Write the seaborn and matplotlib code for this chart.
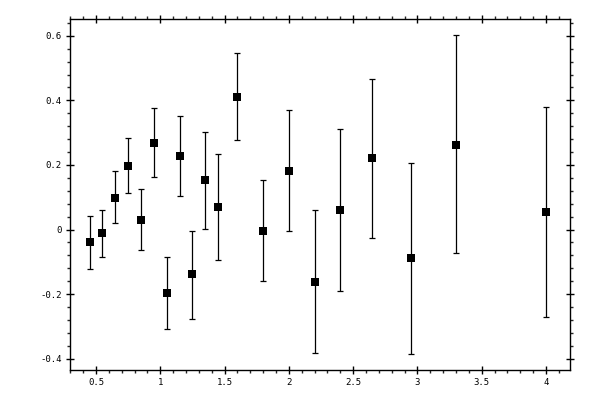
import matplotlib
matplotlib.use("Agg")
import matplotlib.pyplot as plt
import numpy as np
import pandas as pd
import seaborn as sns
from matplotlib.ticker import MultipleLocator, FixedFormatter, FixedLocator

# values
x_vals = [0.45, 0.55, 0.65, 0.75, 0.85, 0.95, 1.05, 1.15, 1.25, 1.35, 1.45,
          1.6, 1.8, 2.0, 2.2, 2.4, 2.65, 2.95, 3.3, 4.0]
y_vals = [-0.040, -0.012, 0.098, 0.198, 0.031, 0.269, -0.198, 0.228, -0.139, 0.152, 0.071,
          0.409, -0.003, 0.180, -0.161, 0.059, 0.220, -0.087, 0.263, 0.053]
y_top = [0.043, 0.059, 0.180, 0.282, 0.127, 0.375, -0.085, 0.353, -0.003, 0.302, 0.235,
         0.546, 0.152, 0.369, 0.059, 0.310, 0.467, 0.207, 0.601, 0.378]
y_bot = [-0.121, -0.084, 0.019, 0.112, -0.062, 0.164, -0.309, 0.104, -0.276, 0.003, -0.093,
         0.276, -0.158, -0.006, -0.381, -0.191, -0.025, -0.384, -0.074, -0.272]

x_ticks = [0.5, 1, 1.5, 2, 2.5, 3, 3.5, 4]
x_tick_labels = ["0.5", "1", "1.5", "2", "2.5", "3", "3.5", "4"]
y_ticks = [-0.4, -0.2, 0, 0.2, 0.4, 0.6]
y_tick_labels = ["-0.4", "-0.2", "0", "0.2", "0.4", "0.6"]

df = pd.DataFrame({"x": x_vals, "y": y_vals, "top": y_top, "bot": y_bot})

sns.set_style("ticks")
plt.rcParams["font.family"] = ["DejaVu Sans Mono"]

fig = plt.figure(figsize=(6, 4), dpi=100)
ax = fig.add_axes([70 / 600, 30 / 400, 500 / 600, 351 / 400])

yerr = np.array([df["y"] - df["bot"], df["top"] - df["y"]])
ax.errorbar(df["x"], df["y"], yerr=yerr, fmt="none", ecolor="black",
            elinewidth=0.9, capsize=2, capthick=0.9)
sns.scatterplot(data=df, x="x", y="y", marker="s", s=28, color="black",
                edgecolor="black", linewidth=0, ax=ax, zorder=3)

ax.set_xlim(0.298, 4.187)
ax.set_ylim(-0.435, 0.652)
ax.set_xlabel("")
ax.set_ylabel("")

ax.xaxis.set_major_locator(FixedLocator(x_ticks))
ax.xaxis.set_major_formatter(FixedFormatter(x_tick_labels))
ax.yaxis.set_major_locator(FixedLocator(y_ticks))
ax.yaxis.set_major_formatter(FixedFormatter(y_tick_labels))
ax.xaxis.set_minor_locator(MultipleLocator(0.1))
ax.yaxis.set_minor_locator(MultipleLocator(0.04))

for side in ["top", "right", "bottom", "left"]:
    ax.spines[side].set_visible(True)
    ax.spines[side].set_linewidth(1.0)
    ax.spines[side].set_color("black")

ax.tick_params(which="major", direction="inout", length=6, width=1.0,
               top=True, right=True, labelsize=6.5, pad=3, colors="black")
ax.tick_params(which="minor", direction="out", length=2.5, width=1.0,
               top=True, right=True)

fig.savefig("out.png", dpi=100)
